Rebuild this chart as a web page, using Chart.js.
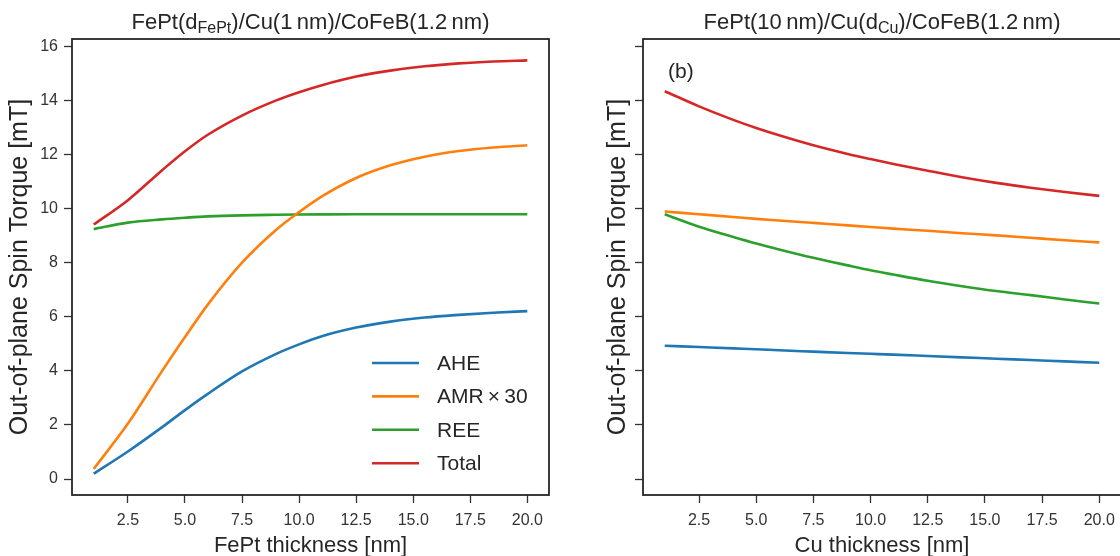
<!DOCTYPE html>
<html>
<head>
<meta charset="utf-8">
<script src="https://cdn.jsdelivr.net/npm/chart.js@4.4.0/dist/chart.umd.min.js"></script>
<style>
  html, body { margin: 0; padding: 0; background: #fff; overflow: hidden; width: 1120px; height: 556px; }
  #c1 { position: absolute; left: 0; top: 0; }
  #c2 { position: absolute; left: 560px; top: 0; }
</style>
</head>
<body>
<canvas id="c1" width="560" height="556"></canvas>
<canvas id="c2" width="600" height="556"></canvas>
<script>
// ---- data ----
const seriesNames = ['AHE', 'AMR\u2009\u00d7\u200930', 'REE', 'Total'];
const seriesColors = ['#1f77b4', '#ff7f0e', '#2ca02c', '#d62728'];

const xFePt = [1, 2.5, 4, 5, 6, 7.5, 9, 10, 11, 12.5, 14, 15.5, 17, 18.5, 20];
const aheA = [0.2, 1.02, 1.92, 2.55, 3.15, 3.98, 4.63, 4.98, 5.28, 5.6, 5.82, 5.97, 6.07, 6.15, 6.21];
const amrA = [0.37, 2.05, 4.0, 5.25, 6.45, 8.0, 9.22, 9.87, 10.45, 11.13, 11.6, 11.92, 12.13, 12.26, 12.34];
const reeA = [9.24, 9.48, 9.6, 9.66, 9.71, 9.75, 9.77, 9.78, 9.785, 9.79, 9.79, 9.79, 9.79, 9.79, 9.79];
const totA = [9.41, 10.31, 11.42, 12.12, 12.73, 13.44, 14.0, 14.3, 14.56, 14.88, 15.1, 15.26, 15.37, 15.44, 15.48];

const xCu = [1, 2.5, 4, 5, 6, 7.5, 9, 10, 11, 12.5, 14, 15.5, 17, 18.5, 20];
const aheB = [4.93, 4.88, 4.83, 4.80, 4.76, 4.71, 4.66, 4.63, 4.60, 4.55, 4.50, 4.45, 4.40, 4.35, 4.30];
const amrB = [9.89, 9.79, 9.69, 9.62, 9.56, 9.47, 9.38, 9.32, 9.26, 9.18, 9.09, 9.01, 8.92, 8.83, 8.75];
const reeB = [9.79, 9.33, 8.95, 8.71, 8.49, 8.18, 7.9, 7.72, 7.56, 7.33, 7.13, 6.95, 6.8, 6.64, 6.49];
const totB = [14.34, 13.78, 13.28, 12.98, 12.71, 12.34, 12.02, 11.83, 11.65, 11.40, 11.16, 10.95, 10.77, 10.61, 10.47];

const xTickValues = [2.5, 5, 7.5, 10, 12.5, 15, 17.5, 20];
const yTickValues = [0, 2, 4, 6, 8, 10, 12, 14, 16];

const FONT = "'Liberation Sans', Arial, sans-serif";
const TXT = '#262626';

function makeDatasets(xs, arrs) {
  return arrs.map((a, i) => ({
    label: seriesNames[i],
    data: xs.map((x, j) => ({ x: x, y: a[j] })),
    borderColor: seriesColors[i],
    backgroundColor: seriesColors[i],
    borderWidth: 2.6,
    pointRadius: 0,
    cubicInterpolationMode: 'monotone',
    fill: false
  }));
}

// plugin: frame, titles, axis labels, legend, annotation
const decor = {
  id: 'decor',
  afterDraw(chart, args, o) {
    const ctx = chart.ctx, ca = chart.chartArea;
    ctx.save();
    ctx.strokeStyle = '#262626';
    ctx.lineWidth = 1.8;
    ctx.strokeRect(ca.left, ca.top, ca.right - ca.left, ca.bottom - ca.top);
    ctx.fillStyle = TXT;
    // title with subscript
    const mainF = o.titleSize + 'px ' + FONT, subF = Math.round(o.titleSize * 0.72) + 'px ' + FONT;
    let w = 0;
    o.title.forEach(p => { ctx.font = p.sub ? subF : mainF; w += ctx.measureText(p.t).width; });
    let x = (ca.left + ca.right) / 2 - w / 2;
    ctx.textBaseline = 'alphabetic';
    ctx.textAlign = 'left';
    o.title.forEach(p => {
      ctx.font = p.sub ? subF : mainF;
      ctx.fillText(p.t, x, o.titleY + (p.sub ? 4 : 0));
      x += ctx.measureText(p.t).width;
    });
    // x axis label
    ctx.font = o.axisSize + 'px ' + FONT;
    ctx.textAlign = 'center';
    ctx.fillText(o.xLabel, (ca.left + ca.right) / 2, o.xLabelY);
    // y axis label
    ctx.save();
    ctx.font = o.yAxisSize + 'px ' + FONT;
    ctx.translate(o.yLabelX, (ca.top + ca.bottom) / 2);
    ctx.rotate(-Math.PI / 2);
    ctx.textBaseline = 'middle';
    ctx.fillText(o.yLabel, 0, 0);
    ctx.restore();
    // annotation
    if (o.note) {
      ctx.font = o.note.size + 'px ' + FONT;
      ctx.textAlign = 'left';
      ctx.textBaseline = 'alphabetic';
      ctx.fillText(o.note.t, o.note.x, o.note.y);
    }
    // legend
    if (o.legend) {
      const L = o.legend;
      chart.data.datasets.forEach((ds, i) => {
        const yy = L.y + i * L.dy;
        ctx.strokeStyle = ds.borderColor;
        ctx.lineWidth = 2.6;
        ctx.beginPath();
        ctx.moveTo(L.x, yy);
        ctx.lineTo(L.x + L.len, yy);
        ctx.stroke();
        ctx.fillStyle = TXT;
        ctx.font = L.size + 'px ' + FONT;
        ctx.textAlign = 'left';
        ctx.textBaseline = 'middle';
        ctx.fillText(ds.label, L.x + L.len + L.gap, yy + 1);
      });
    }
    ctx.restore();
  }
};

function makeScales(yWidth, showYLabels) {
  return {
    x: {
      type: 'linear', min: 0.05, max: 20.95,
      afterBuildTicks: s => { s.ticks = xTickValues.map(v => ({ value: v })); },
      afterFit: s => { s.height = 61; },
      ticks: { callback: v => Number(v).toFixed(1), font: { family: FONT, size: 16 }, color: '#333', padding: 8, maxRotation: 0, autoSkip: false },
      grid: { drawOnChartArea: false, drawTicks: true, tickLength: 8, tickColor: '#333', tickWidth: 1.3 },
      border: { display: false }
    },
    y: {
      type: 'linear', min: -0.59, max: 16.27,
      afterBuildTicks: s => { s.ticks = yTickValues.map(v => ({ value: v })); },
      afterFit: s => { s.width = yWidth; },
      ticks: { display: showYLabels, callback: v => String(v), font: { family: FONT, size: 16 }, color: '#333', padding: 6 },
      grid: { drawOnChartArea: false, drawTicks: true, tickLength: 8, tickColor: '#333', tickWidth: 1.3 },
      border: { display: false }
    }
  };
}

new Chart(document.getElementById('c1'), {
  type: 'line',
  data: { datasets: makeDatasets(xFePt, [aheA, amrA, reeA, totA]) },
  options: {
    responsive: false, animation: false, devicePixelRatio: 1,
    layout: { padding: { left: 0, right: 11, top: 39, bottom: 0 } },
    scales: makeScales(72, true),
    plugins: {
      legend: { display: false }, tooltip: { enabled: false },
      decor: {
        titleSize: 22, titleY: 29,
        title: [{ t: 'FePt(d' }, { t: 'FePt', sub: true }, { t: ')/Cu(1\u2009nm)/CoFeB(1.2\u2009nm)' }],
        axisSize: 22, yAxisSize: 25, xLabel: 'FePt thickness [nm]', xLabelY: 552,
        yLabel: 'Out-of-plane Spin Torque [mT]', yLabelX: 20,
        legend: { x: 372, y: 363, dy: 33.4, len: 47, gap: 18, size: 21 }
      }
    }
  },
  plugins: [decor]
});

new Chart(document.getElementById('c2'), {
  type: 'line',
  data: { datasets: makeDatasets(xCu, [aheB, amrB, reeB, totB]) },
  options: {
    responsive: false, animation: false, devicePixelRatio: 1,
    layout: { padding: { left: 0, right: 39, top: 39, bottom: 0 } },
    scales: makeScales(83, false),
    plugins: {
      legend: { display: false }, tooltip: { enabled: false },
      decor: {
        titleSize: 22, titleY: 29,
        title: [{ t: 'FePt(10\u2009nm)/Cu(d' }, { t: 'Cu', sub: true }, { t: ')/CoFeB(1.2\u2009nm)' }],
        axisSize: 22, yAxisSize: 25, xLabel: 'Cu thickness [nm]', xLabelY: 552,
        yLabel: 'Out-of-plane Spin Torque [mT]', yLabelX: 58,
        note: { t: '(b)', x: 108, y: 78, size: 21 }
      }
    }
  },
  plugins: [decor]
});
</script>
</body>
</html>
